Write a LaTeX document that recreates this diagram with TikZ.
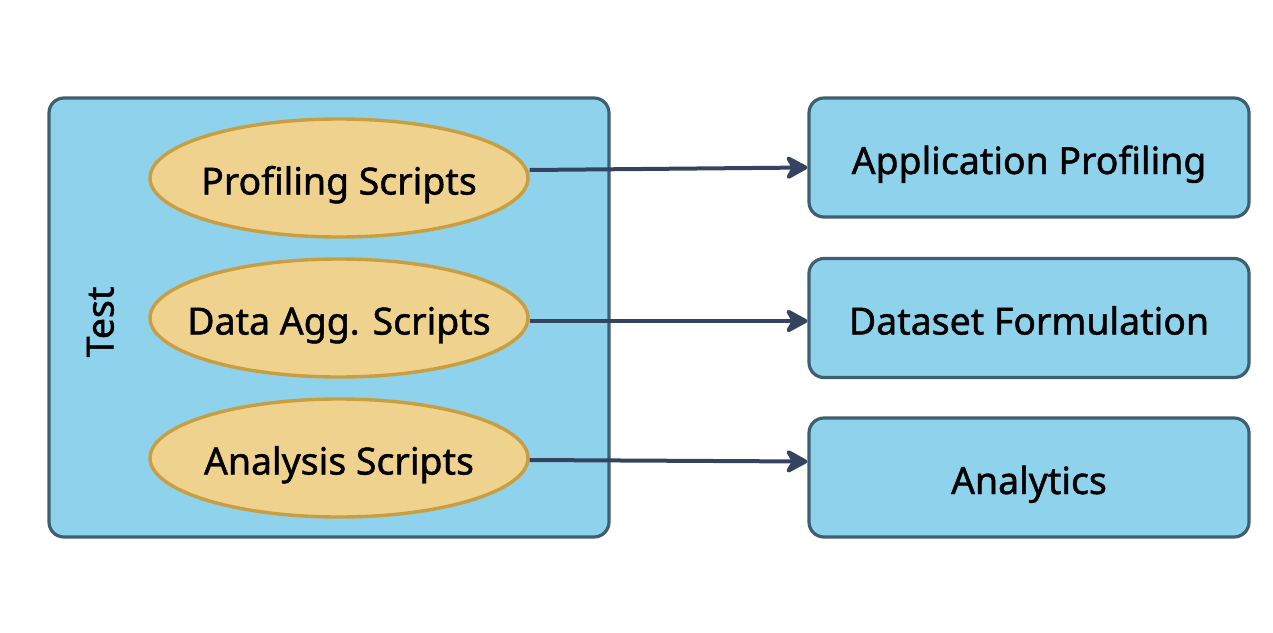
\documentclass[tikz,border=0pt]{standalone}
\usepackage{fontspec}
\setmainfont{Noto Sans}[BoldFont={Noto Sans}, BoldFeatures={FakeBold=1.2}]
\usetikzlibrary{shapes.geometric,arrows.meta}

\definecolor{boxblue}{RGB}{143,210,236}
\definecolor{boxline}{RGB}{62,95,112}
\definecolor{ovalfill}{RGB}{240,210,143}
\definecolor{ovalline}{RGB}{200,158,64}
\definecolor{arrowcol}{RGB}{52,68,94}

% keep the label from widening the oval
\newcommand{\ovtxt}[1]{\makebox[0pt]{#1}}

\tikzset{
    label font/.style={font=\fontsize{18.7}{23}\selectfont\bfseries, text height=16.5pt, text depth=0pt},
    stagebox/.style={draw=boxline, fill=boxblue, line width=1.6pt, rounded corners=7.5pt,
        minimum width=220pt, minimum height=59.5pt, inner sep=0pt, label font},
    scriptoval/.style={ellipse, draw=ovalline, fill=ovalfill, line width=1.7pt,
        minimum width=189pt, minimum height=59pt, inner sep=0pt, label font},
    feed/.style={draw=arrowcol, line width=2pt,
        -{Stealth[length=13pt, width=14pt, inset=4pt, round]}}
}

\begin{document}
\begin{tikzpicture}[x=0.5pt, y=-0.5pt]
        \useasboundingbox (0,0) rectangle (1273,632);
        % test container
        \node[stagebox, minimum width=280pt, minimum height=219.5pt] (test) at (329,317.5) {};
        \node[rotate=90, label font] (testlbl) at (97,322) {Test};
        % scripts
        \node[scriptoval] (prof) at (339,178) {\ovtxt{Profiling Scripts}};
        \node[scriptoval] (agg)  at (339,318) {\ovtxt{Data Agg. Scripts}};
        \node[scriptoval] (anal) at (339,458) {\ovtxt{Analysis Scripts}};
        % stages
        \node[stagebox] (app)  at (1029,157.5) {Application Profiling};
        \node[stagebox] (data) at (1029,318)   {Dataset Formulation};
        \node[stagebox] (ana)  at (1029,477.5) {Analytics};
        % arrows
        \draw[feed] ([yshift=4pt]prof.east)    -- ([yshift=-5pt]app.west);
        \draw[feed] ([yshift=-1.5pt]agg.east)  -- ([yshift=-1.5pt]data.west);
        \draw[feed] ([yshift=-1pt]anal.east)   -- ([yshift=8pt]ana.west);
    \end{tikzpicture}
\end{document}
